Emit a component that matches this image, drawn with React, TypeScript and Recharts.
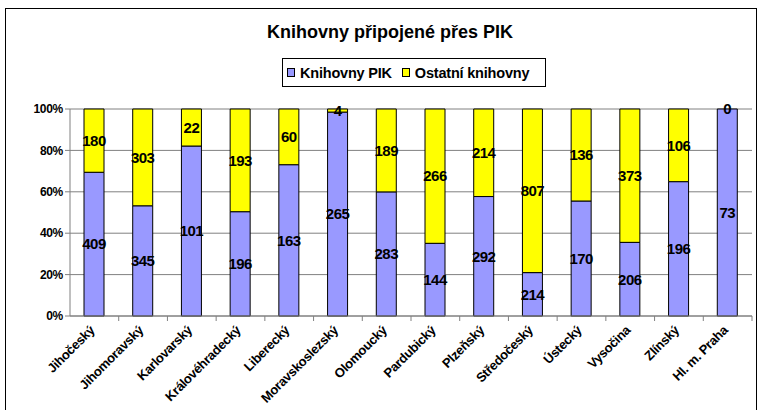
// 100 % stacked columns: libraries connected via PIK vs. the rest, per region.
import { BarChart, Bar, XAxis, YAxis, CartesianGrid, LabelList } from "recharts";

const regions = [
  "Jihočeský", "Jihomoravský", "Karlovarský", "Královéhradecký", "Liberecký",
  "Moravskoslezský", "Olomoucký", "Pardubický", "Plzeňský", "Středočeský",
  "Ústecký", "Vysočina", "Zlínský", "Hl. m. Praha",
];
const pik = [409, 345, 101, 196, 163, 265, 283, 144, 292, 214, 170, 206, 196, 73];
const ostatni = [180, 303, 22, 193, 60, 4, 189, 266, 214, 807, 136, 373, 106, 0];
const yTicks = [0, 0.2, 0.4, 0.6, 0.8, 1];

const data = regions.map((name, i) => ({ name, pik: pik[i], ostatni: ostatni[i] }));

const W = 759;
const H = 410;
const X_H = 94;
const M = { top: 109, right: 7, bottom: 0, left: 0 };
const Y_W = 70;
const BAND = (W - M.left - M.right - Y_W) / regions.length;
const AXIS_Y = H - X_H;
const FONT = "'Liberation Sans', Arial, sans-serif";
const GRID = "#808080";
const labelStyle = { fill: "#000", fontFamily: FONT, fontWeight: "bold", fontSize: 15, letterSpacing: -0.5 };

function RegionTick({ x, y, payload }: any) {
  const ax = x + 1;
  const ay = y + 7;
  return (
    <g>
      <line x1={x + BAND / 2} x2={x + BAND / 2} y1={AXIS_Y} y2={AXIS_Y + 5} stroke={GRID} />
      <text
        x={ax}
        y={ay}
        transform={`rotate(-45 ${ax} ${ay})`}
        textAnchor="end"
        fontFamily={FONT}
        fontWeight="bold"
        fontSize={13}
        letterSpacing={-0.3}
        fill="#000"
      >
        {payload.value}
      </text>
    </g>
  );
}

// zero-height segments get no label from recharts, so put it on top of the lower segment
function ZeroTopLabel({ x, y, width, value }: any) {
  if (value !== 0) return null;
  return (
    <text x={x + width / 2} y={y} dy={5} textAnchor="middle" {...labelStyle}>
      0
    </text>
  );
}

function Swatch({ color }: { color: string }) {
  return (
    <span
      style={{
        display: "inline-block",
        width: 6,
        height: 7,
        background: color,
        border: "1px solid #000",
        marginRight: 5,
      }}
    />
  );
}

export default function App() {
  return (
    <div style={{ position: "absolute", left: 0, top: 0, width: W, height: H, background: "#fff", overflow: "hidden", fontFamily: FONT }}>
      <div style={{ position: "absolute", left: 5, top: 8, width: 752, height: 420, border: "1px solid #000", boxSizing: "border-box" }} />
      <div style={{ position: "absolute", left: 0, width: 780, top: 22, textAlign: "center", fontWeight: "bold", fontSize: 18 }}>
        Knihovny připojené přes PIK
      </div>
      <div
        style={{
          position: "absolute",
          left: 282,
          top: 58,
          width: 264,
          height: 29,
          border: "1px solid #000",
          boxSizing: "border-box",
          display: "flex",
          alignItems: "center",
          paddingLeft: 4,
          fontWeight: "bold",
          fontSize: 14.5,
          letterSpacing: -0.2,
          whiteSpace: "nowrap",
        }}
      >
        <Swatch color="#9999FF" />
        <span style={{ marginRight: 10 }}>Knihovny PIK</span>
        <Swatch color="#FFFF00" />
        <span>Ostatní knihovny</span>
      </div>
      <div style={{ position: "absolute", left: 0, top: 0 }}>
        <BarChart width={W} height={H} data={data} margin={M} stackOffset="expand" barSize={20}>
          <CartesianGrid vertical={false} stroke={GRID} strokeDasharray="" />
          <XAxis
            dataKey="name"
            interval={0}
            height={X_H}
            stroke={GRID}
            tickLine={false}
            tick={<RegionTick />}
          />
          <YAxis
            width={Y_W}
            ticks={yTicks}
            domain={[0, 1]}
            stroke={GRID}
            tickSize={5}
            tickFormatter={(v: number) => `${Math.round(v * 100)}%`}
            tick={{ fill: "#000", fontFamily: FONT, fontWeight: "bold", fontSize: 12, letterSpacing: -0.3 }}
          />
          <Bar dataKey="pik" stackId="a" fill="#9999FF" stroke="#000" strokeWidth={1} isAnimationActive={false}>
            <LabelList dataKey="pik" position="center" {...labelStyle} />
            <LabelList dataKey="ostatni" content={<ZeroTopLabel />} />
          </Bar>
          <Bar dataKey="ostatni" stackId="a" fill="#FFFF00" stroke="#000" strokeWidth={1} isAnimationActive={false}>
            <LabelList dataKey="ostatni" position="center" {...labelStyle} />
          </Bar>
        </BarChart>
      </div>
    </div>
  );
}
